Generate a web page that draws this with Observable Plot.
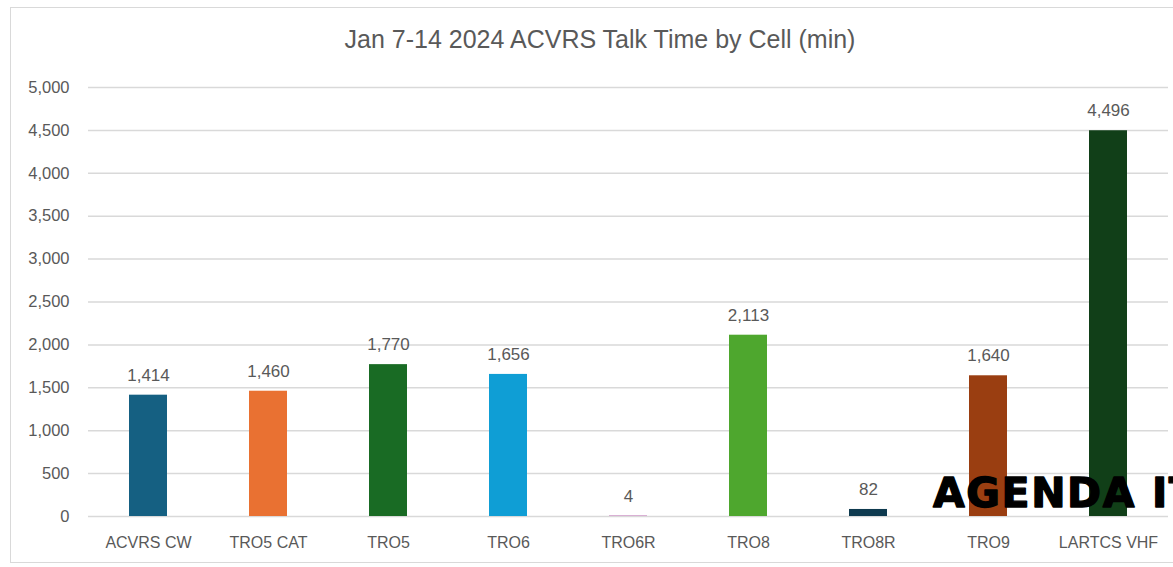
<!DOCTYPE html>
<html>
<head>
<meta charset="utf-8">
<script src="https://cdn.jsdelivr.net/npm/d3@7"></script>
<script src="https://cdn.jsdelivr.net/npm/@observablehq/plot@0.6"></script>
<style>
  html, body { margin: 0; padding: 0; background: #fff; overflow: hidden; width: 1173px; height: 567px; }
  #wrap { position: relative; width: 1173px; height: 567px; overflow: hidden; }
  #frame { position: absolute; left: 10px; top: 7px; width: 1250px; height: 556px; border: 1.5px solid #d9d9d9; box-sizing: border-box; }
  #title { position: absolute; left: 0; width: 1200px; top: 24px; text-align: center; font-family: "Liberation Sans", Arial, sans-serif; font-size: 25px; color: #595959; line-height: 30px; white-space: nowrap; }
  #chart { position: absolute; left: 0; top: 0; }
  #stamp { position: absolute; left: 0; top: 0; pointer-events: none; }
</style>
</head>
<body>
<div id="wrap">
  <div id="frame"></div>
  <div id="title">Jan 7-14 2024 ACVRS Talk Time by Cell (min)</div>
  <div id="chart"></div>
  <svg id="stamp" width="1173" height="567"><text x="933" y="507" font-family="DejaVu Sans, sans-serif" font-weight="bold" font-size="41" letter-spacing="1.6" fill="#000" stroke="#000" stroke-width="1.4" stroke-linejoin="round">AGENDA ITEM</text></svg>
</div>
<script>
const cells = ["ACVRS CW", "TRO5 CAT", "TRO5", "TRO6", "TRO6R", "TRO8", "TRO8R", "TRO9", "LARTCS VHF"];
const minutes = [1414, 1460, 1770, 1656, 4, 2113, 82, 1640, 4496];
const palette = ["#156082", "#E97132", "#196B24", "#0F9ED5", "#A02B93", "#4EA72E", "#0E3A4F", "#9A3E11", "#113F18"];
const yTicks = [0, 500, 1000, 1500, 2000, 2500, 3000, 3500, 4000, 4500, 5000];

const data = cells.map((c, i) => ({cell: c, value: minutes[i]}));
const fmt = d3.format(",");

const chart = Plot.plot({
  width: 1173,
  height: 567,
  marginTop: 87,
  marginBottom: 51,
  marginLeft: 88,
  marginRight: 5,
  style: {fontFamily: "Liberation Sans, Arial, sans-serif", color: "#595959", background: "transparent", overflow: "visible"},
  x: {domain: cells, paddingInner: 0.685, paddingOuter: 0.3425, label: null},
  y: {domain: [0, 5000], label: null},
  color: {domain: cells, range: palette},
  marks: [
    Plot.gridY(yTicks, {stroke: "#d9d9d9", strokeOpacity: 1, strokeWidth: 1.5}),
    Plot.barY(data, {x: "cell", y: "value", fill: "cell"}),
    Plot.text(data, {x: "cell", y: "value", text: d => fmt(d.value), dy: -20, fontSize: 17, fill: "#595959"}),
    Plot.axisY({ticks: yTicks, tickFormat: fmt, tickSize: 0, tickPadding: 19, fontSize: 16.5, label: null}),
    Plot.axisX({tickSize: 0, tickPadding: 20, fontSize: 16, label: null})
  ]
});
document.getElementById("chart").appendChild(chart);
</script>
</body>
</html>
